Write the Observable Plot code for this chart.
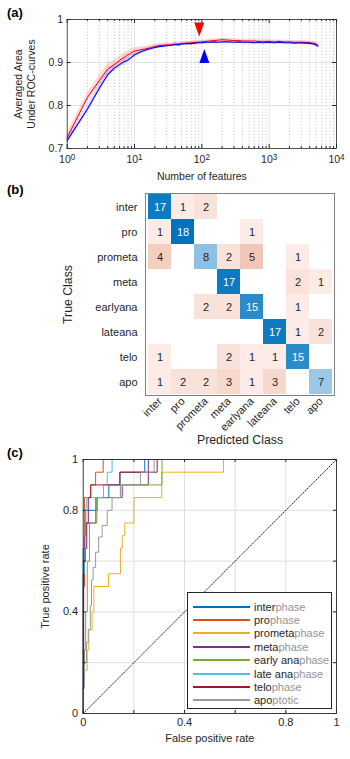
<!DOCTYPE html>
<html>
<head>
<meta charset="utf-8">
<script src="https://cdn.jsdelivr.net/npm/d3@7"></script>
<script src="https://cdn.jsdelivr.net/npm/@observablehq/plot@0.6"></script>
<style>
  body { margin: 0; background: white; }
  #fig { position: relative; width: 350px; height: 759px; background: white; font-family: "Liberation Sans", Arial, sans-serif; color: #262626; overflow: hidden; }
  .panel { position: absolute; left: 0; }
  .plab { position: absolute; left: 7px; font-weight: bold; font-size: 13px; line-height: 13px; color: #000; }
  #legend { position: absolute; left: 187px; top: 592px; width: 145px; height: 117px; border: 1px solid #262626; background: white; box-sizing: border-box; padding-top: 7px; }
  .lrow { height: 13.4px; display: flex; align-items: center; font-size: 11px; }
  .lline { margin-left: 5px; width: 57px; height: 0; border-top: 2px solid; margin-right: 4px; }
  .lsuf { color: #949494; }
</style>
</head>
<body>
<div id="fig">
  <div class="plab" style="top:6px">(a)</div>
  <div class="plab" style="top:183px">(b)</div>
  <div class="plab" style="top:446px">(c)</div>
</div>
<script>
// ---------- Panel (a) data ----------
const features = [1,2,3,4,5,6,7,8,9,10,11,12,14,16,18,20,23,26,30,35,40,45,50,60,70,80,90,100,115,130,150,175,200,250,300,350,400,500,600,700,800,1000,1200,1400,1700,2000,2400,2800,3300,3800,4300,4800,5300];
const aucRed = [.726,.819,.858,.885,.895,.905,.912,.918,.923,.927,.928,.929,
  .931,.933,.935,.937,
  .939,.940,.941,.941,.943,.943,.944,
  .945,.946,.947,.947,.948,
  .949,.950,.951,.952,.953,
  .952,.951,.951,.950,
  .950,.950,.949,.949,
  .949,.948,.949,.948,.948,
  .947,.947,.947,.946,.945,.944,.941];
const aucBlue = [.719,.792,.840,.872,.887,.895,.902,.906,.912,.918,.921,.924,
  .928,.931,.933,.935,
  .937,.938,.939,.940,.942,.941,.943,
  .944,.944,.945,.946,.946,
  .947,.947,.948,.947,.948,
  .948,.947,.948,.947,
  .947,.946,.947,.946,
  .947,.946,.947,.946,.946,
  .945,.946,.945,.945,.944,.942,.938];
const sdRed = [.010,.011,.012,.012,.011,.010,.010,.009,.008,.008,.007,.007,
  .006,.006,.006,.005,
  .005,.005,.005,.004,.004,.004,.004,
  .004,.004,.004,.004,.004,
  .004,.004,.004,.004,.004,
  .004,.004,.004,.004,
  .004,.004,.004,.004,
  .004,.004,.004,.004,.004,
  .004,.004,.004,.004,.004,.005,.005];
const sdBlue = [.009,.010,.010,.009,.009,.008,.008,.007,.007,.006,.006,.006,
  .005,.005,.005,.005,
  .005,.004,.004,.004,.004,.004,.004,
  .004,.004,.004,.004,.004,
  .004,.004,.004,.004,.004,
  .004,.004,.004,.004,
  .004,.004,.004,.004,
  .004,.004,.004,.004,.004,
  .004,.004,.004,.004,.004,.004,.005];
const bestN = [91.5, 109];
const bestV = [0.977, 0.915];
const aXTicks = [1, 10, 100, 1000, 10000];
const aYTicks = [0.7, 0.8, 0.9, 1];

// ---------- Panel (b) data ----------
const classes = ["inter","pro","prometa","meta","earlyana","lateana","telo","apo"];
const confusion = [
  [17, 1, 2, 0, 0, 0, 0, 0],
  [ 1,18, 0, 0, 1, 0, 0, 0],
  [ 4, 0, 8, 2, 5, 0, 1, 0],
  [ 0, 0, 0,17, 0, 0, 2, 1],
  [ 0, 0, 2, 2,15, 0, 1, 0],
  [ 0, 0, 0, 0, 0,17, 1, 2],
  [ 1, 0, 0, 2, 1, 1,15, 0],
  [ 1, 2, 2, 3, 1, 3, 0, 7]
];

// ---------- Panel (c) data ----------
const rocNames = ["interphase","prophase","prometaphase","metaphase","early anaphase","late anaphase","telophase","apoptotic"];
const rocPrefix = ["inter","pro","prometa","meta","early ana","late ana","telo","apo"];
const rocSuffix = ["phase","phase","phase","phase","phase","phase","phase","ptotic"];
const rocColors = ["#0072BD","#D95319","#EDB120","#7E2F8E","#77AC30","#4DBEEE","#A2142F","#999999"];
const rocFpr = [
  [0,0,0.005,0.01,0.055,0.101,0.145,0.243,1],
  [0,0,0.005,0.029,0.049,0.079,1],
  [0,0,0.005,0.016,0.022,0.035,0.042,0.1,0.147,0.154,0.164,0.2,0.31,0.554,1],
  [0,0,0.005,0.01,0.05,0.154,0.257,1],
  [0,0,0.005,0.01,0.016,0.025,0.054,0.147,0.311,1],
  [0,0,0.005,0.008,0.014,0.08,0.095,0.114,1],
  [0,0,0.002,0.008,0.014,0.02,0.03,0.145,0.292,1],
  [0,0,0.005,0.013,0.02,0.028,0.033,0.039,0.049,0.061,0.075,0.095,0.114,0.147,0.226,0.28,1]
];
const rocTpr = [
  [0,0.65,0.7,0.8,0.85,0.9,0.95,1,1],
  [0,0.5,0.85,0.9,0.95,1,1],
  [0,0.1,0.17,0.25,0.33,0.4,0.5,0.55,0.65,0.7,0.75,0.85,0.95,1,1],
  [0,0.55,0.7,0.75,0.85,0.9,1,1],
  [0,0.1,0.25,0.4,0.6,0.75,0.85,0.9,1,1],
  [0,0.55,0.65,0.8,0.85,0.9,0.95,1,1],
  [0,0.1,0.6,0.65,0.75,0.85,0.9,0.95,1,1],
  [0,0.1,0.2,0.28,0.33,0.425,0.525,0.575,0.635,0.695,0.74,0.8,0.85,0.9,0.95,1,1]
];
const cTicks = [0, 0.4, 0.8, 1];
const cGrid = [0.2, 0.4, 0.6, 0.8];
const chance = [0, 1];

// ---------- common ----------
const FONT = '"Liberation Sans", Arial, sans-serif';
const INK = "#262626";
const fig = document.getElementById("fig");
function place(el, top) {
  const d = document.createElement("div");
  d.className = "panel";
  d.style.top = top + "px";
  d.appendChild(el);
  fig.appendChild(d);
  return d;
}
const baseStyle = { fontFamily: FONT, fontSize: "10.5px", color: INK, background: "transparent", overflow: "visible" };

// ================= Panel (a) =================
{
  const W = 350, H = 182, mL = 66.7, mR = 14, mT = 19, mB = 34;
  const fw = W - mL - mR, fh = H - mT - mB;
  const rows = features.map((n, i) => ({ n, r: aucRed[i], b: aucBlue[i], rs: sdRed[i], bs: sdBlue[i] }));
  const minor = d3.scaleLog().domain([1, 10000]).ticks().filter(t => !aXTicks.includes(t));
  const triDown = { draw(ctx, size) { const r = Math.sqrt(size / Math.PI); ctx.moveTo(0, 1.75 * r); ctx.lineTo(1.25 * r, -1.75 * r); ctx.lineTo(-1.25 * r, -1.75 * r); ctx.closePath(); } };
  const triUp = { draw(ctx, size) { const r = Math.sqrt(size / Math.PI); ctx.moveTo(0, -1.75 * r); ctx.lineTo(1.25 * r, 1.75 * r); ctx.lineTo(-1.25 * r, 1.75 * r); ctx.closePath(); } };
  const best = bestN.map((n, i) => ({ n, v: bestV[i] }));
  const svg = Plot.plot({
    width: W, height: H, marginLeft: mL, marginRight: mR, marginTop: mT, marginBottom: mB,
    style: baseStyle,
    x: { type: "log", domain: [1, 10000] },
    y: { domain: [0.7, 1] },
    marks: [
      Plot.ruleX(minor, { stroke: "#9a9a9a", strokeDasharray: "0.8,2.4", strokeWidth: 0.8 }),
      Plot.ruleX(aXTicks.slice(1, -1), { stroke: "#e3e3e3" }),
      Plot.ruleY(aYTicks.slice(1, -1), { stroke: "#e3e3e3" }),
      Plot.areaY(rows, { x: "n", y1: d => d.r - d.rs, y2: d => d.r + d.rs, fill: "#ff0000", fillOpacity: 0.15 }),
      Plot.areaY(rows, { x: "n", y1: d => d.b - d.bs, y2: d => d.b + d.bs, fill: "#0000ff", fillOpacity: 0.13 }),
      Plot.lineY(rows, { x: "n", y: "r", stroke: "#ff0000", strokeWidth: 1 }),
      Plot.lineY(rows, { x: "n", y: "b", stroke: "#0000ff", strokeWidth: 1.1 }),
      Plot.dot(best.slice(0, 1), { x: "n", y: "v", symbol: triDown, r: 4, fill: "#ff0000", stroke: "none" }),
      Plot.dot(best.slice(1), { x: "n", y: "v", symbol: triUp, r: 4, fill: "#0000ff", stroke: "none" }),
      Plot.tickX(aXTicks, { x: d => d, insetTop: fh - 4, stroke: INK }),
      Plot.tickX(aXTicks, { x: d => d, insetBottom: fh - 4, stroke: INK }),
      Plot.tickX(minor, { x: d => d, insetTop: fh - 2, stroke: INK }),
      Plot.tickX(minor, { x: d => d, insetBottom: fh - 2, stroke: INK }),
      Plot.tickY(aYTicks, { y: d => d, insetRight: fw - 4, stroke: INK }),
      Plot.tickY(aYTicks, { y: d => d, insetLeft: fw - 4, stroke: INK }),
      Plot.frame({ stroke: INK, strokeWidth: 0.8 }),
      Plot.axisX({ ticks: aXTicks, tickSize: 0, tickPadding: 7, label: null, tickFormat: d => "10^" + Math.round(Math.log10(d)), fontSize: 10.5 }),
      Plot.axisY({ ticks: aYTicks, tickSize: 0, tickPadding: 4, label: null, tickFormat: d => d === 1 ? "1" : d.toFixed(1), fontSize: 10.5 }),
      Plot.text(["Number of features"], { text: d => d, frameAnchor: "bottom", textAnchor: "middle", lineAnchor: "middle", dy: 28, fontSize: 10.5, fill: INK }),
      Plot.text(["Averaged Area\nUnder ROC-curves"], { text: d => d, frameAnchor: "left", textAnchor: "middle", lineAnchor: "middle", dx: -43, rotate: -90, fontSize: 10.5, lineHeight: 1.2, fill: INK })
    ]
  });
  svg.querySelectorAll('g[aria-label="x-axis tick label"] text').forEach(t => {
    const s = t.textContent;
    if (!s.includes("^")) return;
    const [b, e] = s.split("^");
    t.textContent = b;
    const ts = document.createElementNS("http://www.w3.org/2000/svg", "tspan");
    ts.setAttribute("dy", "-0.4em");
    ts.setAttribute("font-size", "0.78em");
    ts.textContent = e;
    t.appendChild(ts);
  });
  place(svg, 0);
}

// ================= Panel (b) =================
{
  const W = 350, H = 265, mL = 145, mR = 16, mT = 11, mB = 52;
  const cells = classes.flatMap((t, i) => classes.map((p, j) => ({ t, p, v: confusion[i][j], diag: i === j })));
  const diagScale = d3.scaleLinear().domain([0, 18]).range(["#ffffff", "#0072bd"]);
  const offScale = d3.scaleLinear().domain([0, 18]).range(["#fef4f2", "#d24e12"]);
  const fillOf = d => d.v === 0 ? "#ffffff" : (d.diag ? diagScale(d.v) : offScale(d.v));
  const svg = Plot.plot({
    width: W, height: H, marginLeft: mL, marginRight: mR, marginTop: mT, marginBottom: mB,
    style: { ...baseStyle, fontSize: "11px" },
    x: { type: "band", domain: classes, padding: 0 },
    y: { type: "band", domain: classes, padding: 0 },
    color: { type: "identity" },
    marks: [
      Plot.cell(cells, { x: "p", y: "t", fill: fillOf, inset: 0 }),
      Plot.text(cells.filter(d => d.v > 0), { x: "p", y: "t", text: d => String(d.v), fill: d => (d.diag && d.v >= 12) ? "#ffffff" : INK, fontSize: 11 }),
      Plot.frame({ stroke: "#808080", strokeWidth: 1 }),
      Plot.axisX({ anchor: "bottom", tickSize: 0, tickPadding: 4, tickRotate: -45, label: null, fontSize: 11 }),
      Plot.axisY({ anchor: "left", tickSize: 0, tickPadding: 8, label: null, fontSize: 11 }),
      Plot.text(["Predicted Class"], { text: d => d, frameAnchor: "bottom", textAnchor: "middle", lineAnchor: "middle", dy: 45, fontSize: 12.3, fill: INK }),
      Plot.text(["True Class"], { text: d => d, frameAnchor: "left", textAnchor: "middle", lineAnchor: "middle", dx: -77, rotate: -90, fontSize: 12.3, fill: INK })
    ]
  });
  place(svg, 182);
}

// ================= Panel (c) =================
{
  const W = 350, H = 312, mL = 82.7, mR = 14, mT = 12, mB = 46;
  const fw = W - mL - mR, fh = H - mT - mB;
  const rows = rocNames.flatMap((c, k) => rocFpr[k].map((f, i) => ({ c, f, t: rocTpr[k][i] })));
  const diag = chance.map(v => ({ x: v, y: v }));
  const svg = Plot.plot({
    width: W, height: H, marginLeft: mL, marginRight: mR, marginTop: mT, marginBottom: mB,
    style: { ...baseStyle, fontSize: "11px" },
    x: { domain: [0, 1] },
    y: { domain: [0, 1] },
    color: { domain: rocNames, range: rocColors },
    marks: [
      Plot.ruleX(cGrid, { stroke: "#dedede" }),
      Plot.ruleY(cGrid, { stroke: "#dedede" }),
      Plot.line(diag, { x: "x", y: "y", stroke: "#000", strokeDasharray: "1,1.6", strokeWidth: 0.9 }),
      Plot.line(rows, { x: "f", y: "t", z: "c", stroke: "c", curve: "step-after", strokeWidth: 1 }),
      Plot.tickX(cGrid.concat([0, 1]), { x: d => d, insetTop: fh - 3, stroke: INK }),
      Plot.tickX(cGrid.concat([0, 1]), { x: d => d, insetBottom: fh - 3, stroke: INK }),
      Plot.tickY(cGrid.concat([0, 1]), { y: d => d, insetRight: fw - 3, stroke: INK }),
      Plot.tickY(cGrid.concat([0, 1]), { y: d => d, insetLeft: fw - 3, stroke: INK }),
      Plot.frame({ stroke: INK, strokeWidth: 0.9 }),
      Plot.axisX({ ticks: cTicks, tickSize: 0, tickPadding: 5, label: null, tickFormat: d => String(d), fontSize: 11 }),
      Plot.axisY({ ticks: cTicks, tickSize: 0, tickPadding: 5, label: null, tickFormat: d => String(d), fontSize: 11 }),
      Plot.text(["False positive rate"], { text: d => d, frameAnchor: "bottom", textAnchor: "middle", lineAnchor: "middle", dy: 25, fontSize: 11, fill: INK }),
      Plot.text(["True positive rate"], { text: d => d, frameAnchor: "left", textAnchor: "middle", lineAnchor: "middle", dx: -38, rotate: -90, fontSize: 11, fill: INK })
    ]
  });
  place(svg, 447);

  // legend (HTML overlay)
  const lg = document.createElement("div");
  lg.id = "legend";
  rocNames.forEach((c, k) => {
    const row = document.createElement("div");
    row.className = "lrow";
    const ln = document.createElement("span");
    ln.className = "lline";
    ln.style.borderTopColor = rocColors[k];
    const pre = document.createElement("span");
    pre.textContent = rocPrefix[k];
    const suf = document.createElement("span");
    suf.className = "lsuf";
    suf.textContent = rocSuffix[k];
    row.appendChild(ln); row.appendChild(pre); row.appendChild(suf);
    lg.appendChild(row);
  });
  fig.appendChild(lg);
}
</script>
</body>
</html>
